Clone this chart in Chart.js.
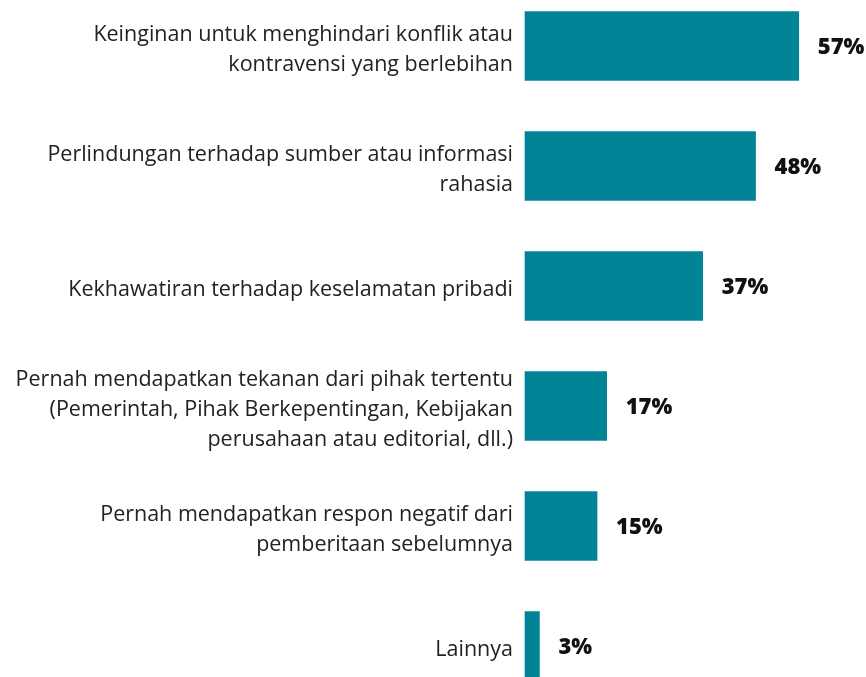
<!DOCTYPE html>
<html>
<head>
<meta charset="utf-8">
<script src="https://cdn.jsdelivr.net/npm/chart.js@4"></script>
<style>
  html, body { margin: 0; padding: 0; background: #fff; }
  #wrap { width: 866px; height: 677px; }
</style>
</head>
<body>
<div id="wrap"><canvas id="chart"></canvas></div>
<script>
// --- data ---
const categories = [
  ["Keinginan untuk menghindari konflik atau", "kontravensi yang berlebihan"],
  ["Perlindungan terhadap sumber atau informasi", "rahasia"],
  ["Kekhawatiran terhadap keselamatan pribadi"],
  ["Pernah mendapatkan tekanan dari pihak tertentu", "(Pemerintah, Pihak Berkepentingan, Kebijakan", "perusahaan atau editorial, dll.)"],
  ["Pernah mendapatkan respon negatif dari", "pemberitaan sebelumnya"],
  ["Lainnya"]
];
const values = [57, 48, 37, 17, 15, 3];
const valueLabels = ["57%", "48%", "37%", "17%", "15%", "3%"];

const BAR_COLOR = "#008496";
const FONT = "'Open Sans', sans-serif";

// draws the bold % next to each bar
const valueLabelPlugin = {
  id: "valueLabels",
  afterDatasetsDraw(chart) {
    const ctx = chart.ctx;
    const meta = chart.getDatasetMeta(0);
    ctx.save();
    ctx.font = "800 22px " + FONT;
    ctx.fillStyle = "#111";
    ctx.textAlign = "left";
    ctx.textBaseline = "middle";
    meta.data.forEach((bar, i) => {
      ctx.fillText(valueLabels[i], bar.x + 19, bar.y + 2);
    });
    ctx.restore();
  }
};

new Chart(document.getElementById("chart"), {
  type: "bar",
  data: {
    labels: categories,
    datasets: [{
      data: values,
      backgroundColor: BAR_COLOR,
      barThickness: 69,
      clip: false
    }]
  },
  options: {
    indexAxis: "y",
    responsive: true,
    maintainAspectRatio: false,
    animation: false,
    layout: { padding: { top: 46, bottom: 31, right: 0, left: 0 } },
    plugins: {
      legend: { display: false },
      tooltip: { enabled: false }
    },
    scales: {
      x: {
        display: false,
        min: 0,
        max: 71
      },
      y: {
        offset: false,
        grid: { display: false, drawTicks: false },
        border: { display: false },
        afterFit(scale) {
          scale.width = 525;
          scale.paddingTop = 0;
          scale.paddingBottom = 0;
        },
        ticks: {
          padding: 12,
          labelOffset: 4,
          color: "#222",
          font: { family: FONT, size: 21.5, lineHeight: 1.4 }
        }
      }
    }
  },
  plugins: [valueLabelPlugin]
});
</script>
</body>
</html>
